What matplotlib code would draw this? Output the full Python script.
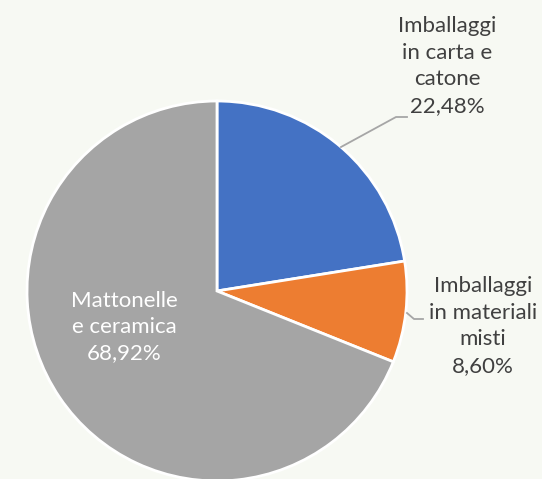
import matplotlib.pyplot as plt

# dati
labels = ['Imballaggi\nin carta e\ncatone', 'Imballaggi\nin materiali\nmisti', 'Mattonelle\ne ceramica']
values = [22.48, 8.60, 68.92]
colori = ['#4472C4', '#ED7D31', '#A5A5A5']

bg = '#F7F9F3'
fig = plt.figure(figsize=(5.42, 4.79), dpi=100, facecolor=bg)
ax = fig.add_axes([0, 0, 1, 1])
ax.set_facecolor(bg)

cx, cy, r = 217, 479 - 291, 190
wedges, _ = ax.pie(values, colors=colori, startangle=90, counterclock=False,
                   center=(cx, cy), radius=r, frame=True,
                   wedgeprops=dict(edgecolor='white', linewidth=2))
ax.set_xlim(0, 542)
ax.set_ylim(0, 479)
ax.set_aspect('equal')
ax.axis('off')

fs = 16
ls = 1.4
font = ['Lato', 'DejaVu Sans']
txt = lambda i: labels[i] + '\n' + f'{values[i]:.2f}'.replace('.', ',') + '%'

# etichetta blu con linea guida
ax.plot([341, 396, 407], [479 - 147, 479 - 117, 479 - 117], color='#A6A6A6', lw=1.3)
ax.text(447, 479 - 66, txt(0), ha='center', va='center', fontsize=fs,
        color='#404040', family=font, linespacing=ls)

# etichetta arancione
ax.plot([407, 414, 423], [479 - 313, 479 - 319, 479 - 319], color='#A6A6A6', lw=1.3)
ax.text(483, 479 - 326, txt(1), ha='center', va='center', fontsize=fs,
        color='#404040', family=font, linespacing=ls)

# etichetta interna grigia
ax.text(124, 479 - 327, txt(2), ha='center', va='center', fontsize=fs,
        color='white', family=font, linespacing=ls)

plt.savefig('out.png', dpi=100, facecolor=bg)
